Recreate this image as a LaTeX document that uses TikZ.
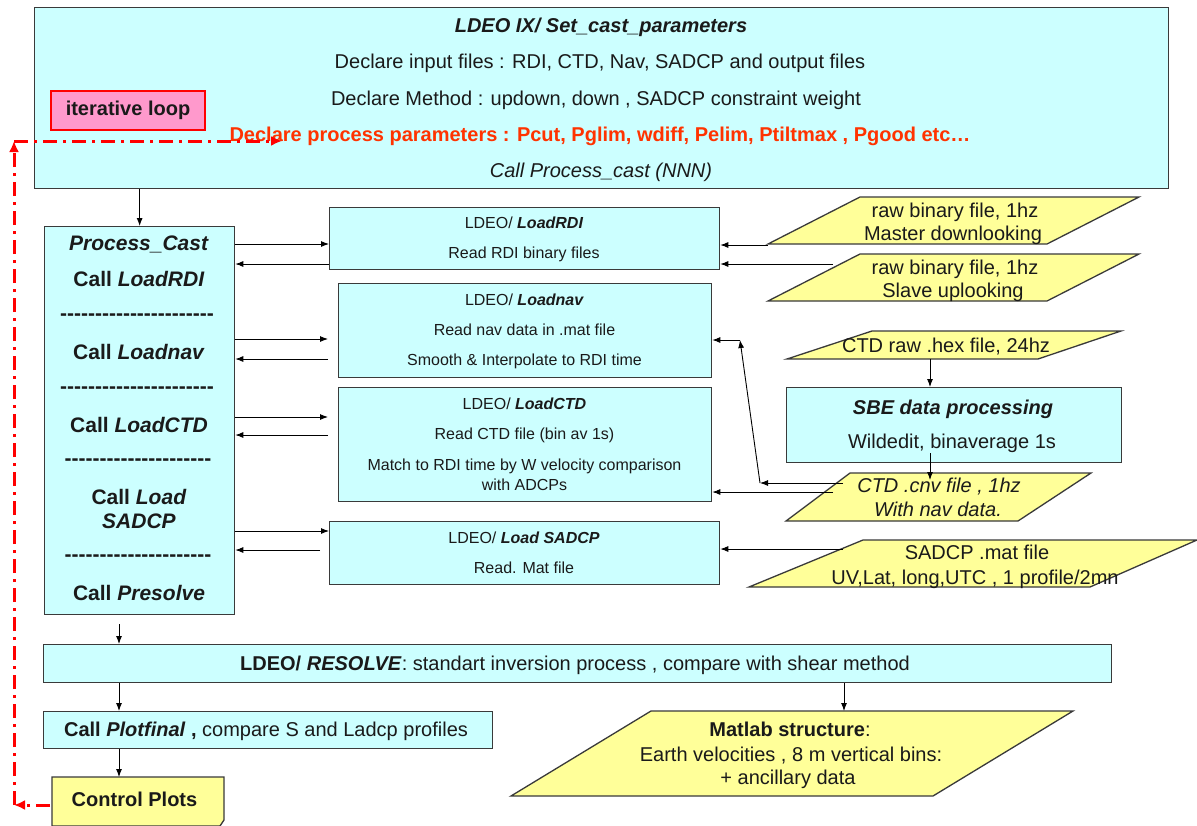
\documentclass[tikz,border=0pt]{standalone}
\usepackage{fontspec}
\setmainfont{Liberation Sans}
\usetikzlibrary{arrows.meta}
\definecolor{cyanbox}{HTML}{CCFFFF}
\definecolor{yelbox}{HTML}{FFFF99}
\definecolor{pinkbox}{HTML}{FF99CC}
\definecolor{redtxt}{HTML}{FF3300}
\definecolor{edgec}{HTML}{3A3A3A}
\definecolor{txtc}{HTML}{1A1A1A}
\newcommand\hyrow[1]{\foreach\hi in {1,...,#1}{-}}
\begin{document}
\begin{tikzpicture}[x=1pt,y=-1pt,
  box/.style={draw=edgec,line width=1.3pt,fill=cyanbox,inner sep=0pt,anchor=north west},
  para/.style={draw=edgec,line width=1.3pt,fill=yelbox},
  ttxt/.style={anchor=base,inner sep=0pt,text=txtc,font=\fontsize{20}{24}\selectfont},
  ptxt/.style={anchor=base,inner sep=0pt,text=txtc,font=\fontsize{21}{25}\selectfont\bfseries},
  stxt/.style={anchor=base,inner sep=0pt,text=txtc,font=\fontsize{16}{19}\selectfont},
  dashtxt/.style={anchor=center,inner sep=0pt,text=txtc,font=\fontsize{21}{25}\selectfont\bfseries},
  arr/.style={-{Latex[length=8pt,width=6pt]},line width=0.9pt,draw=black},
  redloop/.style={draw=red,line width=3pt,dash pattern=on 14pt off 6pt on 3pt off 6pt,-{Latex[length=11pt,width=10pt]}}
]
\useasboundingbox (0,0) rectangle (1197,825);
\fill[white] (0,0) rectangle (1197,825);

% ---------- top box ----------
\node[box,minimum width=1134,minimum height=181] (top) at (34,7) {};
\node[ttxt] (t1) at (601,32) {\textbf{\textit{LDEO IX/ Set\_cast\_parameters}}};
\node[ttxt] (t2) at (600,68) {Declare input files : RDI, CTD, Nav, SADCP and output files};
\node[ttxt] (t3) at (596,105) {Declare Method : updown, down , SADCP constraint weight};
\node[ttxt,text=redtxt] (t4) at (600,141) {\textbf{Declare process parameters : Pcut, Pglim, wdiff, Pelim, Ptiltmax , Pgood etc…}};
\node[ttxt] (t5) at (601,177) {\textit{Call Process\_cast (NNN)}};

\node[draw=red,line width=1.5pt,fill=pinkbox,minimum width=154,minimum height=39,inner sep=0pt,
      text=txtc,font=\fontsize{20}{24}\selectfont\bfseries] (loop) at (128,110.5) {iterative loop};

% ---------- Process_Cast box ----------
\node[box,minimum width=190,minimum height=388] (proc) at (44,226) {};
\node[ptxt] (pc0) at (139,250.5) {\textit{Process\_Cast}};
\node[ptxt] (pc1) at (139,286.5) {Call \textit{LoadRDI}};
\node[dashtxt] (pd1) at (137,317) {\hyrow{22}};
\node[ptxt] (pc2) at (139,359.5) {Call \textit{Loadnav}};
\node[dashtxt] (pd2) at (137,390) {\hyrow{22}};
\node[ptxt] (pc3) at (139,432.5) {Call \textit{LoadCTD}};
\node[dashtxt] (pd3) at (138,462) {\hyrow{21}};
\node[ptxt] (pc4a) at (139,504.5) {Call \textit{Load}};
\node[ptxt] (pc4b) at (139,528.5) {\textit{SADCP}};
\node[dashtxt] (pd4) at (138,558) {\hyrow{21}};
\node[ptxt] (pc5) at (139,600.5) {Call \textit{Presolve}};

% ---------- LDEO boxes ----------
\node[box,minimum width=390,minimum height=62] (rdi) at (329,207) {};
\node[stxt] (rdi1) at (524,228) {LDEO/ \textbf{\textit{LoadRDI}}};
\node[stxt] (rdi2) at (524,258) {Read RDI binary files};

\node[box,minimum width=373,minimum height=94] (nav) at (338,283) {};
\node[stxt] (nav1) at (524.5,305) {LDEO/ \textbf{\textit{Loadnav}}};
\node[stxt] (nav2) at (524.5,335) {Read nav data in .mat file};
\node[stxt] (nav3) at (524.5,365) {Smooth \& Interpolate to RDI time};

\node[box,minimum width=373,minimum height=114] (ctd) at (338,387) {};
\node[stxt] (ctd1) at (524.5,409) {LDEO/ \textbf{\textit{LoadCTD}}};
\node[stxt] (ctd2) at (524.5,439) {Read CTD file (bin av 1s)};
\node[stxt] (ctd3) at (524.5,470) {Match to RDI time by W velocity comparison};
\node[stxt] (ctd4) at (524.5,490) {with ADCPs};

\node[box,minimum width=390,minimum height=63] (sad) at (329,521) {};
\node[stxt] (sad1) at (524,543) {LDEO/ \textbf{\textit{Load SADCP}}};
\node[stxt] (sad2) at (524,573) {Read. Mat file};

% ---------- SBE box ----------
\node[box,minimum width=335,minimum height=75] (sbe) at (786,387) {};
\node[ttxt] (sbe1) at (953,414) {\textbf{\textit{SBE data processing}}};
\node[ttxt] (sbe2) at (952,448) {Wildedit, binaverage 1s};

% ---------- parallelograms ----------
\draw[para] (860,197) -- (1139,197) -- (1047,244) -- (768,244) -- cycle;
\node[ttxt] (p1a) at (955,217) {raw binary file, 1hz};
\node[ttxt] (p1b) at (953,240) {Master downlooking};

\draw[para] (860,254) -- (1139,254) -- (1047,301) -- (768,301) -- cycle;
\node[ttxt] (p2a) at (955,274) {raw binary file, 1hz};
\node[ttxt] (p2b) at (953,297) {Slave uplooking};

\draw[para] (872,331) -- (1121,331) -- (1038,359) -- (787,359) -- cycle;
\node[ttxt] (p3) at (946,352) {CTD raw .hex file, 24hz};

\draw[para] (850,473) -- (1091,473) -- (1018,521) -- (786,521) -- cycle;
\node[ttxt] (p4a) at (939,492) {\textit{CTD .cnv file , 1hz}};
\node[ttxt] (p4b) at (938,516) {\textit{With nav data.}};

\draw[para] (863,540) -- (1197,540) -- (1090,587) -- (749,587) -- cycle;
\node[ttxt] (p5a) at (977,559) {SADCP .mat file};
\node[ttxt] (p5b) at (975,584) {UV,Lat, long,UTC , 1 profile/2mn};

% ---------- bottom ----------
\node[box,minimum width=1068,minimum height=38] (res) at (43,644) {};
\node[ttxt] (res1) at (575,670) {\textbf{LDEO/ \textit{RESOLVE}}: standart inversion process , compare with shear method};

\node[box,minimum width=449,minimum height=37] (plot) at (43,711) {};
\node[ttxt] (plot1) at (266,736) {\textbf{Call \textit{Plotfinal} ,} compare S and Ladcp profiles};

\draw[para] (52,777) -- (224,777) -- (224,820) -- (220,826) -- (52,826) -- cycle;
\node[ttxt] (ctrl) at (134.5,806) {\textbf{Control Plots}};
\coordinate (ctrltop) at (119,777);

\draw[para] (651,711) -- (1073,711) -- (933,796) -- (511,796) -- cycle;
\node[ttxt] (m1) at (790,736) {\textbf{Matlab structure}:};
\node[ttxt] (m2) at (791,761) {Earth velocities , 8 m vertical bins:};
\node[ttxt] (m3) at (788,784) {+ ancillary data};
\coordinate (mtop) at (844,711);

% ---------- connectors ----------
\draw[arr] (proc.north |- top.south) -- (proc.north);

\coordinate (navin) at (328,339);
\coordinate (navout) at (328,359);
\coordinate (ctdin) at (328,417);
\coordinate (ctdout) at (328,435);
\coordinate (sadout) at (320,550);
\draw[arr] (proc.east |- 0,244) -- (rdi.west |- 0,244);
\draw[arr] (rdi.west |- 0,264) -- (proc.east |- 0,264);
\draw[arr] (proc.east |- navin) -- (navin);
\draw[arr] (navout) -- (proc.east |- navout);
\draw[arr] (proc.east |- ctdin) -- (ctdin);
\draw[arr] (ctdout) -- (proc.east |- ctdout);
\draw[arr] (proc.east |- 0,531) -- (sad.west |- 0,531);
\draw[arr] (sadout) -- (proc.east |- sadout);

\coordinate (p1out) at (768,245);
\coordinate (p2out) at (833,264);
\coordinate (p3out) at (930,359);
\coordinate (sbeout) at (930,453);
\coordinate (p4in) at (930,480);
\coordinate (p4outa) at (843,483);
\coordinate (bendA) at (760,483);
\coordinate (bendB) at (740,340);
\coordinate (p4outb) at (833,492);
\coordinate (p5out) at (843,549);
\draw[arr] (p1out) -- (rdi.east |- p1out);
\draw[arr] (p2out) -- (rdi.east |- p2out);
\draw[arr] (p3out) -- (sbe.north -| p3out);
\draw[arr] (sbeout) -- (p4in);
\draw[arr] (p4outa) -- (bendA);
\draw[arr] (bendA) -- (bendB);
\draw[arr] (bendB) -- (nav.east |- bendB);
\draw[arr] (p4outb) -- (ctd.east |- p4outb);
\draw[arr] (p5out) -- (sad.east |- p5out);

\coordinate (procbot) at (119,624);
\draw[arr] (procbot) -- (res.north -| procbot);
\draw[arr] (res.south -| procbot) -- (plot.north -| procbot);
\draw[arr] (plot.south -| procbot) -- (ctrltop);
\draw[arr] (res.south -| mtop) -- (mtop);

% ---------- iterative loop (red) ----------
\coordinate (lpA) at (50,805);
\coordinate (lpB) at (14,805);
\coordinate (lpC) at (14,141);
\coordinate (lpD) at (282,141);
\draw[redloop] (lpA) -- (lpB);
\draw[redloop] (lpB) -- (lpC);
\draw[redloop] (lpC) -- (lpD);
\end{tikzpicture}
\end{document}
